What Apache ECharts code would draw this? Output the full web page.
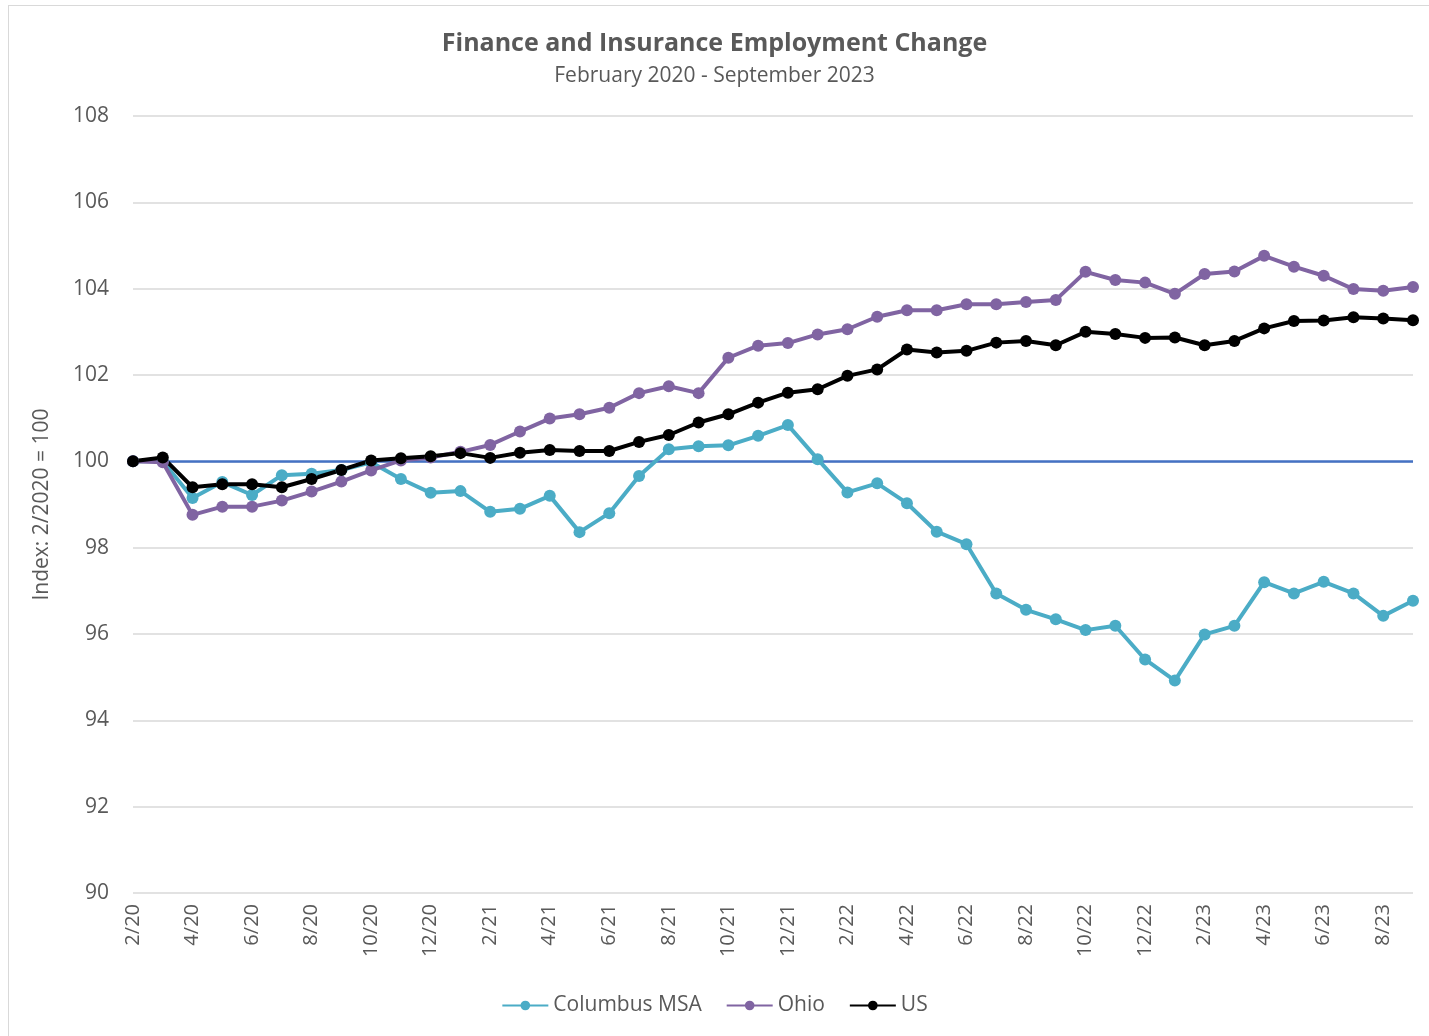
<!DOCTYPE html>
<html>
<head>
<meta charset="utf-8">
<script src="https://cdn.jsdelivr.net/npm/echarts@6/dist/echarts.min.js"></script>
<style>
  html, body { margin: 0; padding: 0; background: #fff; }
  #chart { width: 1429px; height: 1036px; }
  .frame { position: absolute; left: 8px; top: 5px; width: 1440px; height: 1060px; border: 1px solid #d9d9d9; pointer-events: none; }
</style>
</head>
<body>
<div id="chart"></div>
<div class="frame"></div>
<script>
// months 2/20 .. 9/23
const months = []
for (let y = 20; y <= 23; y++) {
  for (let m = 1; m <= 12; m++) {
    if (y === 20 && m < 2) continue
    if (y === 23 && m > 9) break
    months.push(m + "/" + y)
  }
}

const columbus = [
  100.0, 100.0, 99.15, 99.52, 99.22, 99.68, 99.71, 99.8, 99.98, 99.59,
  99.27, 99.31, 98.83, 98.9, 99.2, 98.36, 98.8, 99.66, 100.28, 100.35,
  100.37, 100.59, 100.84, 100.05, 99.28, 99.49, 99.03, 98.37, 98.08, 96.94,
  96.56, 96.34, 96.09, 96.19, 95.41, 94.92, 95.99, 96.19, 97.2, 96.94,
  97.21, 96.94, 96.42, 96.77
]

const ohio = [
  100.0, 99.98, 98.76, 98.95, 98.95, 99.09, 99.3, 99.53, 99.79, 100.02,
  100.09, 100.22, 100.38, 100.69, 100.99, 101.09, 101.24, 101.58, 101.74, 101.58,
  102.4, 102.68, 102.74, 102.94, 103.06, 103.35, 103.5, 103.5, 103.64, 103.64,
  103.69, 103.74, 104.39, 104.2, 104.14, 103.88, 104.34, 104.4, 104.76, 104.51,
  104.3, 103.99, 103.95, 104.04
]

const us = [
  100.0, 100.09, 99.4, 99.47, 99.47, 99.4, 99.59, 99.8, 100.02, 100.07,
  100.12, 100.19, 100.08, 100.2, 100.26, 100.24, 100.24, 100.45, 100.61, 100.9,
  101.09, 101.36, 101.59, 101.67, 101.98, 102.13, 102.59, 102.52, 102.56, 102.75,
  102.79, 102.69, 103.0, 102.95, 102.86, 102.87, 102.69, 102.79, 103.08, 103.25,
  103.26, 103.34, 103.31, 103.27
]

const baseline = 100

const textColor = "#595959"
const font = "Open Sans"

const chart = echarts.init(document.getElementById("chart"))

const lineSeries = (name, data, color) => ({
  name: name,
  type: "line",
  data: data,
  symbol: "circle",
  symbolSize: 12,
  showSymbol: true,
  lineStyle: { width: 4, color: color },
  itemStyle: { color: color },
  z: 3,
})

const option = {
  animation: false,
  backgroundColor: "#fff",
  title: {
    text: "Finance and Insurance Employment Change",
    subtext: "February 2020 - September 2023",
    left: "center",
    top: 26,
    itemGap: 10,
    textStyle: { fontFamily: font, fontSize: 25, fontWeight: "bold", color: textColor },
    subtextStyle: { fontFamily: font, fontSize: 21, color: textColor },
  },
  legend: {
    bottom: 15,
    left: "center",
    itemWidth: 46,
    itemHeight: 12,
    itemGap: 24,
    textStyle: { fontFamily: font, fontSize: 21, color: textColor },
    data: ["Columbus MSA", "Ohio", "US"],
  },
  grid: { left: 133, right: 16, top: 116, bottom: 143 },
  xAxis: {
    type: "category",
    data: months,
    boundaryGap: false,
    axisLine: { show: false },
    axisTick: { show: false },
    axisLabel: {
      interval: 1,
      rotate: 90,
      margin: 11,
      fontFamily: font,
      fontSize: 20,
      color: textColor,
    },
  },
  yAxis: {
    type: "value",
    min: 90,
    max: 108,
    interval: 2,
    name: "Index: 2/2020 = 100",
    nameLocation: "middle",
    nameGap: 80,
    nameTextStyle: { fontFamily: font, fontSize: 21, color: textColor },
    axisLine: { show: false },
    axisTick: { show: false },
    axisLabel: { fontFamily: font, fontSize: 21, color: textColor, margin: 24 },
    splitLine: { lineStyle: { color: "#d9d9d9", width: 1.5 } },
  },
  series: [
    Object.assign(lineSeries("Columbus MSA", columbus, "#4bacc6"), {
      markLine: {
        silent: true,
        symbol: "none",
        label: { show: false },
        lineStyle: { color: "#4472c4", width: 2.5, type: "solid" },
        data: [{ yAxis: baseline }],
        z: 1,
      },
    }),
    lineSeries("Ohio", ohio, "#8064a2"),
    lineSeries("US", us, "#000000"),
  ],
}

chart.setOption(option)
</script>
</body>
</html>
